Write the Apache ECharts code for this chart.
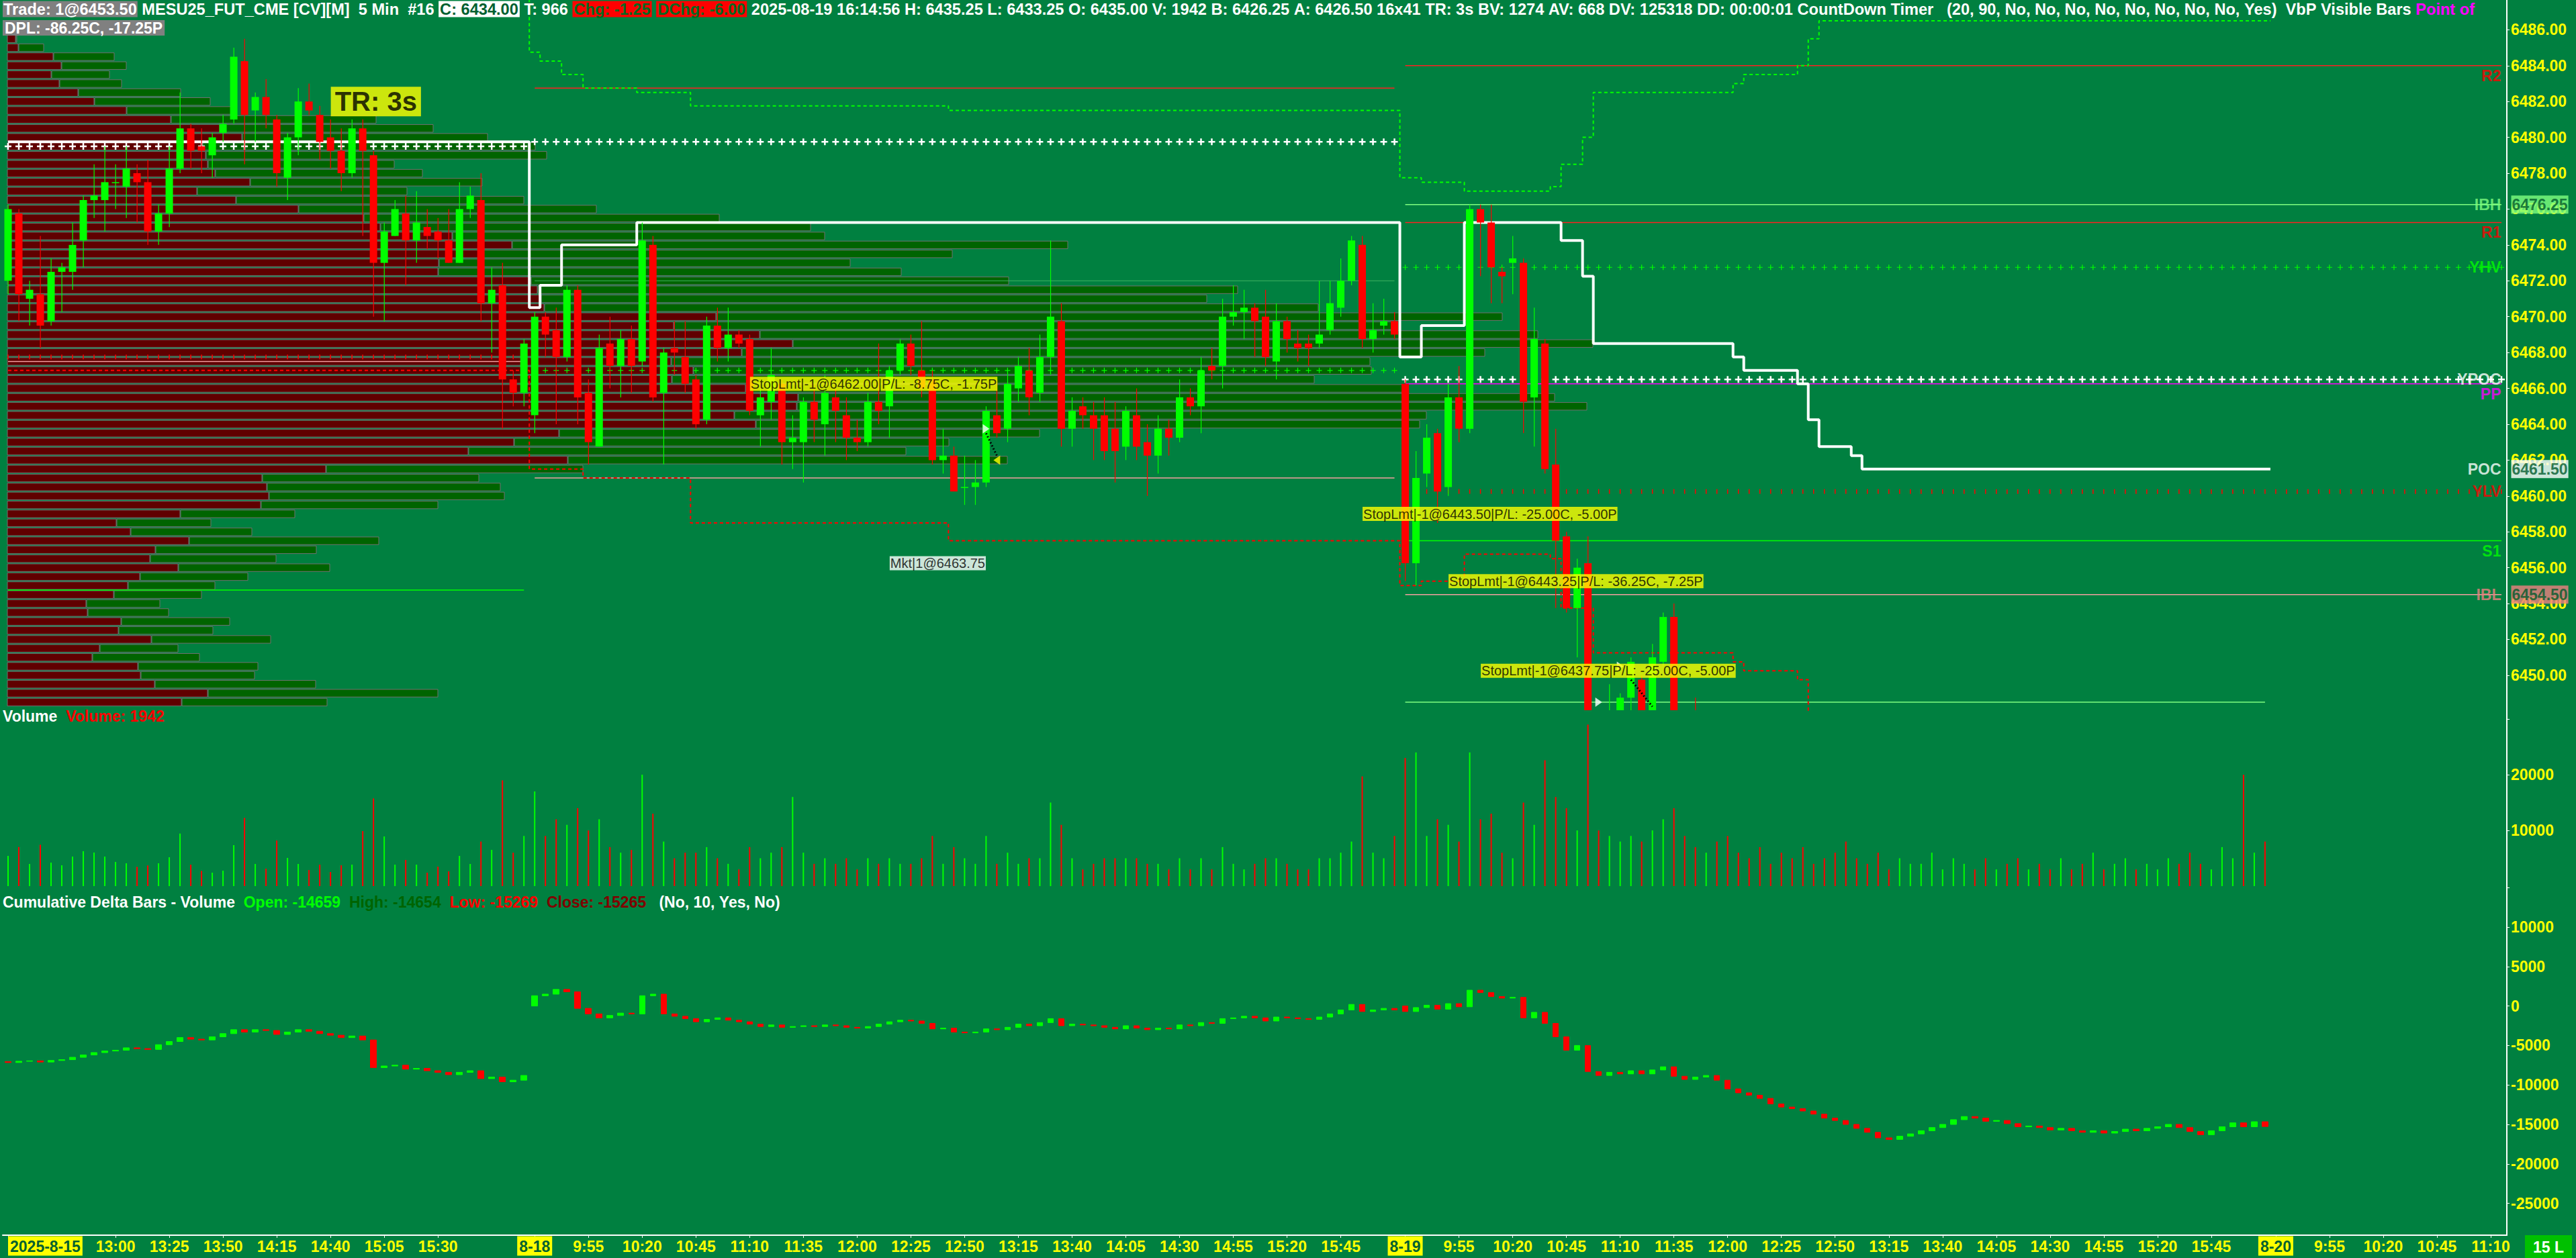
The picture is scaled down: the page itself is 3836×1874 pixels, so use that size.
<!DOCTYPE html>
<html><head><meta charset="utf-8">
<script src="https://cdn.jsdelivr.net/npm/echarts@6/dist/echarts.min.js"></script>
<style>html,body{margin:0;padding:0;background:#008040;overflow:hidden}#c{width:3836px;height:1874px}</style>
</head><body><div id="c"></div>
<script>
// ---------- sessions / categories ----------
const sessionDates = ['2025-8-15', '8-18', '8-19', '8-20'];
const sessionStarts = ['12:10', '9:30', '9:30', '9:30'];
const sessionBars = [49, 81, 81, 22];

// ---------- price candles [open, high, low, close] ----------
const priceOHLC = [
[6472.0,6476.25,6471.25,6476.0],[6475.75,6476.0,6469.75,6471.25],[6471.0,6472.0,6469.5,6471.5],[6471.25,6474.5,6468.25,6469.5],
[6469.75,6473.25,6469.5,6472.5],[6472.5,6473.0,6470.25,6472.75],[6472.5,6475.25,6471.5,6474.0],[6474.25,6476.75,6472.75,6476.5],
[6476.5,6478.5,6475.5,6476.75],[6476.5,6479.5,6474.75,6477.5],[6477.5,6478.5,6476.0,6477.5],[6477.25,6479.5,6475.5,6478.25],
[6478.0,6478.5,6475.25,6477.5],[6477.5,6478.75,6474.0,6474.75],[6474.75,6476.25,6474.0,6475.75],[6475.75,6479.5,6475.0,6478.25],
[6478.25,6482.5,6478.0,6480.5],[6480.5,6480.75,6478.25,6479.25],[6479.5,6480.5,6478.0,6479.25],[6479.0,6480.25,6477.75,6480.0],
[6480.25,6481.25,6479.75,6480.75],[6481.0,6485.0,6480.75,6484.5],[6484.25,6485.5,6478.5,6481.25],[6481.5,6482.5,6479.75,6482.25],
[6482.25,6483.25,6480.5,6481.25],[6481.0,6481.25,6477.25,6478.0],[6477.75,6480.25,6476.5,6480.0],[6480.0,6482.75,6479.0,6482.0],
[6482.0,6483.0,6481.25,6481.5],[6481.25,6481.75,6478.75,6479.75],[6480.0,6481.0,6478.25,6479.25],[6479.25,6480.5,6477.0,6478.0],
[6478.0,6481.0,6477.75,6480.5],[6480.5,6481.0,6474.5,6479.25],[6479.0,6479.25,6470.0,6473.0],[6473.0,6475.25,6469.75,6474.75],
[6474.5,6476.5,6474.5,6476.0],[6475.75,6476.75,6471.75,6474.25],[6474.25,6477.0,6473.0,6475.25],[6475.0,6476.0,6473.75,6474.5],
[6474.75,6475.5,6473.25,6474.25],[6474.25,6476.0,6473.0,6473.0],[6473.0,6477.5,6473.0,6476.0],[6476.0,6477.25,6475.5,6476.75],
[6476.5,6478.0,6469.75,6470.75],[6470.75,6472.75,6468.0,6471.5],[6471.75,6473.0,6463.75,6466.5],[6466.5,6467.0,6465.0,6465.75],
[6465.75,6468.75,6465.0,6468.5],
[6464.5,6470.25,6463.5,6470.0],[6470.0,6470.25,6467.75,6469.0],[6469.25,6470.5,6464.0,6467.75],[6467.75,6471.75,6467.5,6471.5],
[6471.5,6471.75,6464.0,6465.5],[6465.75,6466.5,6461.75,6463.0],[6462.75,6469.0,6462.75,6468.25],[6468.5,6470.0,6466.0,6467.25],
[6467.25,6469.25,6465.5,6468.75],[6468.75,6469.5,6465.75,6467.25],[6467.5,6475.25,6467.25,6474.25],[6474.0,6474.5,6465.25,6465.5],
[6465.75,6468.25,6461.75,6468.0],[6468.25,6469.75,6466.75,6468.0],[6467.75,6469.75,6465.75,6466.25],[6466.5,6466.75,6463.75,6464.0],
[6464.25,6470.0,6464.0,6469.5],[6469.5,6470.5,6467.5,6468.25],[6468.25,6470.5,6467.5,6469.0],[6469.0,6469.25,6468.25,6468.5],
[6468.75,6469.0,6464.5,6464.75],[6464.5,6466.5,6462.75,6465.5],[6465.25,6468.25,6464.25,6466.75],[6466.25,6466.5,6461.75,6463.0],
[6463.0,6464.5,6461.5,6463.25],[6463.0,6465.5,6460.75,6465.25],[6465.25,6466.25,6463.0,6464.25],[6464.0,6466.75,6462.25,6465.75],
[6465.5,6466.0,6463.0,6464.75],[6464.5,6465.5,6462.0,6463.25],[6463.25,6464.25,6462.5,6463.0],[6463.0,6465.75,6462.75,6465.25],
[6465.25,6468.5,6464.0,6464.75],[6465.0,6467.25,6463.25,6467.0],[6467.0,6468.75,6466.75,6468.5],[6468.5,6469.0,6466.75,6467.25],
[6467.0,6469.75,6465.5,6466.0],[6466.5,6467.0,6461.75,6462.0],[6462.0,6463.75,6461.25,6462.25],[6462.25,6462.75,6460.25,6460.25],
[6460.5,6462.25,6459.5,6460.5],[6460.5,6462.0,6459.5,6460.75],[6460.75,6465.0,6460.5,6464.75],[6464.5,6466.5,6463.25,6463.5],
[6463.75,6467.0,6463.0,6466.25],[6466.0,6467.75,6465.25,6467.25],[6467.0,6468.25,6464.5,6465.5],[6465.75,6469.0,6465.25,6467.75],
[6467.75,6474.25,6466.75,6470.0],[6469.75,6470.75,6462.75,6463.75],[6463.75,6465.5,6462.75,6464.75],[6465.0,6465.5,6463.75,6464.5],
[6464.5,6465.25,6462.0,6463.75],[6464.5,6465.5,6462.0,6462.5],[6463.75,6465.25,6460.75,6462.5],[6462.75,6465.0,6462.0,6464.75],
[6464.5,6466.0,6462.0,6462.75],[6463.0,6464.0,6460.0,6462.25],[6462.25,6464.5,6461.25,6463.75],[6463.75,6464.25,6462.25,6463.25],
[6463.25,6466.5,6463.0,6465.5],[6465.5,6466.0,6464.5,6465.0],[6465.0,6467.75,6463.5,6467.0],[6467.25,6468.25,6466.5,6467.0],
[6467.25,6471.0,6466.0,6470.0],[6470.0,6471.75,6469.5,6470.25],[6470.25,6471.5,6468.75,6470.5],[6470.5,6470.75,6467.75,6469.75],
[6470.0,6471.5,6467.25,6467.75],[6467.5,6470.75,6466.5,6469.75],[6469.75,6470.0,6468.0,6468.75],[6468.5,6469.25,6467.5,6468.25],
[6468.5,6469.0,6467.25,6468.25],[6468.5,6472.0,6468.25,6469.0],[6469.25,6472.0,6469.0,6470.75],[6470.5,6473.25,6470.0,6472.0],
[6472.0,6474.5,6471.75,6474.25],[6474.0,6474.5,6468.25,6468.75],[6468.75,6470.75,6468.0,6469.25],[6469.5,6471.0,6469.0,6469.75],
[6469.75,6470.25,6468.75,6469.0],
[6466.25,6466.5,6455.25,6456.25],[6456.25,6462.5,6455.0,6461.0],[6461.25,6464.0,6460.5,6463.25],[6463.5,6463.75,6458.5,6460.25],
[6460.5,6466.25,6460.0,6465.5],[6465.5,6467.25,6463.0,6463.75],[6463.75,6476.25,6463.5,6476.0],[6476.0,6476.25,6472.25,6475.25],
[6475.25,6476.25,6470.75,6472.75],[6472.5,6472.75,6470.75,6472.25],[6473.0,6474.5,6471.25,6473.25],[6473.0,6473.25,6463.5,6465.25],
[6465.5,6470.5,6462.75,6468.75],[6468.5,6468.75,6461.25,6461.5],[6461.75,6463.75,6453.75,6457.5],[6457.75,6458.0,6453.5,6453.75],
[6453.75,6456.5,6451.0,6456.0],[6456.25,6457.75,6445.0,6446.5],[6447.5,6448.0,6444.0,6445.0],[6445.0,6449.5,6444.0,6447.5],
[6446.0,6449.0,6445.0,6448.75],[6448.75,6451.0,6447.0,6450.75],[6449.75,6450.0,6446.0,6447.0],[6447.0,6451.75,6446.0,6451.0],
[6450.75,6453.5,6450.5,6453.25],[6453.25,6454.0,6445.0,6446.0],[6446.0,6447.0,6443.0,6444.0],[6445.0,6448.75,6442.0,6443.0]
];

// ---------- volume per bar ----------
const volume = [5422,7024,3976,7430,4217,3735,5301,6265,6024,5301,4337,4096,3470,3710,4096,5180,9438,3855,2731,2410,
2771,7349,12249,3976,3133,8193,5060,3976,2892,3855,2530,3735,3855,9880,15743,8916,3855,4699,3855,2410,3494,2651,5422,3976,
8000,6500,19000,6000,9000,
17000,9000,12000,11000,14000,10000,12000,7000,6000,6500,20000,13000,
8000,5000,6000,6000,7000,5000,4000,3000,7000,5000,6000,7000,16000,6000,4000,5000,4000,5000,3000,5000,
4000,5000,4000,4000,5000,9000,4000,7000,5000,4000,9000,4000,6000,4000,5000,5000,15000,11000,5000,3000,
4000,5000,5000,5000,5000,4000,4000,3000,5000,3000,5000,3000,7000,4000,3000,4000,5000,5000,4000,3000,3000,5000,5000,6000,8000,19700,6000,5000,9000,
23000,24000,9000,12000,11000,8000,24000,12000,13000,6000,5000,15000,11000,22600,16000,14000,10000,29000,10000,9000,8000,9000,8000,10000,12000,14000,9000,7000,6000,8000,9000,
6000,5000,7000,4000,6000,5000,7000,4000,5000,6000,8000,5000,4000,6000,3000,5000,4000,4000,6000,3000,
5000,4000,3000,5000,3000,4000,5000,3000,4000,3000,5000,3000,4000,6000,3000,4000,5000,3000,4000,3000,
5000,4000,6000,4000,3000,7000,5000,20000,6000,8000];

// ---------- cumulative delta closes per bar ----------
const deltaClose = [-7160,-7000,-6950,-7100,-6900,-6800,-6500,-6200,-5900,-5700,
-5600,-5300,-5400,-5500,-4900,-4500,-4000,-4200,-4300,-3900,
-3500,-3000,-3300,-3000,-3100,-3600,-3300,-3000,-3200,-3500,
-3700,-4000,-3800,-4300,-7800,-7600,-7500,-8000,-7900,-8200,
-8400,-8700,-8400,-8200,-9200,-9000,-9600,-9400,-8800,
1300,1500,2100,1800,-300,-1000,-1500,-1200,-900,-1000,
1300,1500,-1000,-1300,-1600,-2000,-1700,-1500,-1800,-2000,
-2300,-2600,-2400,-2700,-2600,-2500,-2600,-2400,-2500,-2700,
-2800,-2600,-2300,-2000,-1800,-1900,-2200,-2900,-2800,-3300,
-3400,-3300,-2900,-3000,-2700,-2300,-2500,-2100,-1600,-2500,
-2300,-2400,-2500,-2700,-2900,-2500,-2800,-3000,-2800,-2900,
-2400,-2500,-2100,-2200,-1600,-1500,-1300,-1500,-1900,-1400,
-1500,-1600,-1700,-1400,-1000,-500,200,-700,-500,-300,-500,
-700,-200,100,-400,300,-100,2000,1700,1200,1000,
1100,-1500,-800,-2200,-3900,-5600,-5000,-8300,-8800,-8400,
-8600,-8200,-8600,-8100,-7700,-8900,-9300,-9000,-8800,-9400,
-10500,-11000,-11300,-11700,-12400,-12800,-13000,-13300,-13700,-14200,
-14500,-15000,-15500,-16000,-16700,-16900,-16500,-16200,-15800,-15400,
-15000,-14400,-14000,-14200,-14600,-14500,-14900,-15300,-15200,-15400,
-15700,-15500,-15800,-16000,-15800,-16100,-15900,-15600,-15800,-15500,
-15300,-15000,-15400,-15900,-16300,-15800,-15300,-14800,-15300,-14659,-15265];
const deltaSessionOpen = [-7050, 0, 0];

// ---------- volume by price (visible bars): top row price, bid part, total ----------
const vbpTopPrice = 6485.5;
const vbpBid = [12,16,68,80,65,77,105,129,177,243,316,349,290,295,298,309,361,282,340,433,530,555,662,751,708,642,641,779,789,794,799,
1055,992,1120,1169,1093,988,1021,989,1099,1177,1175,1082,1114,821,754,686,834,474,
379,386,389,377,257,162,183,270,220,212,254,197,179,158,117,119,169,165,214,137,126,194,198,219,298,259];
const vbpTotal = [14,54,159,177,152,170,258,302,334,549,634,715,786,803,576,618,707,595,769,877,1060,1196,1217,1579,1407,1255,1331,1491,1832,1786,1952,
2226,2069,2279,2361,2200,2029,2031,1946,2079,2304,2352,2113,2103,1537,1402,1338,1489,857,
702,734,740,641,428,303,364,553,460,400,480,358,309,289,227,240,331,306,392,254,286,373,368,459,641,476];

// ---------- developing POC / value-area steps: [first bar, price] ----------
const dpocSteps = [[0,6479.75],[49,6470.5],[50,6471.75],[52,6474.0],[59,6475.25],[130,6467.75],[132,6469.5],[136,6475.25],[145,6474.25],[147,6472.25],[148,6468.5],[161,6467.75],[162,6467.0],[167,6466.25],[168,6464.25],[169,6462.75],[172,6462.25],[173,6461.5]];
const vahSteps = [[0,6490],[49,6484.75],[50,6484.25],[52,6483.5],[54,6482.75],[59,6482.5],[64,6481.75],[88,6481.5],[130,6477.75],[132,6477.5],[136,6477.0],[144,6477.25],[145,6478.5],[147,6480.0],[148,6482.5],[161,6483.0],[162,6483.5],[167,6484.0],[168,6485.5],[169,6486.5]];
const valSteps = [[0,6467.0],[49,6461.5],[54,6461.0],[64,6458.5],[88,6457.5],[130,6455.0],[132,6455.25],[136,6456.75],[144,6456.5],[145,6453.75],[148,6451.25],[161,6450.75],[162,6450.25],[167,6449.75],[168,6447.5]];
const lastDataBar = 210;

// ---------- horizontal levels: [from bar, to bar, price, kind] ----------
const levelLines = [
 [0,48,6467.5,'pink'],[0,48,6454.75,'green'],
 [49,129,6482.75,'red'],[49,129,6461.0,'pink'],[49,129,6472.0,'faint'],
 [130,232,6484.0,'red'],[130,232,6476.25,'lightgreen'],[130,232,6475.25,'red'],[130,232,6466.25,'magenta'],
 [130,232,6457.5,'green'],[130,232,6454.5,'pink'],[130,210,6448.5,'lightgreen']
];
const plusLines = [
 [0,48,6479.5,'white'],[49,129,6479.75,'white'],[130,232,6466.5,'white'],
 [130,232,6472.75,'greenplus'],[0,48,6467.75,'redtick'],[49,129,6467.0,'greenplus'],[130,232,6460.25,'redtick']
];
// right-hand level names: [name, price, colour, offset below line]
const levelNames = [['R2',6484.0,'#ff0000',15],['IBH',6476.25,'#80ff80',0],['R1',6475.25,'#ff0000',15],['YHV',6472.75,'#00ff00',0],
 ['YPOC',6466.5,'#ffffff',0],['PP',6466.25,'#ff00ff',15],['POC',6461.5,'#ffffff',0],['YLV',6460.25,'#ff0000',0],
 ['S1',6457.5,'#00ff00',15],['IBL',6454.5,'#f08080',0]];
const axisBoxes = [[6476.25,'#80ff80'],[6461.5,'#ffffff'],[6454.5,'#f08080']];
// order / info labels
const orderText = ['StopLmt|-1@6462.00|P/L: -8.75C, -1.75P','Mkt|1@6463.75','StopLmt|-1@6443.50|P/L: -25.00C, -5.00P','StopLmt|-1@6443.25|P/L: -36.25C, -7.25P','StopLmt|-1@6437.75|P/L: -25.00C, -5.00P'];
const orderBar = [69,82,126,134,137];
const orderPrice = [6466.25,6456.25,6459.0,6455.25,6450.25];
const orderBg = ['#ffff00','#ffffff','#ffff00','#ffff00','#ffff00'];
// trade fill markers: [bar, price, kind] and connecting dotted links
const fillMarks = [[91,6463.75,'entry'],[92,6462.0,'exit'],[150,6450.5,'entry'],[148,6448.5,'entry']];
const fillLinks = [[[91,6463.5],[92,6462.25]],[[151,6449.75],[153,6448.25]]];

// ---------- build categories ----------
const cats = [], tickText = [];
sessionDates.forEach((d, s) => {
  let [h, m] = sessionStarts[s].split(':').map(Number);
  for (let k = 0; k < sessionBars[s]; k++) {
    const t = h + ':' + String(m).padStart(2, '0');
    cats.push(d + ' ' + t);
    let lab = '';
    if (k === 0) lab = d;
    else if (k % 5 === 0 && !(s === 0 && k < 10) && (s === sessionDates.length - 1 || sessionBars[s] - k > 5)) lab = t;
    tickText.push(lab);
    m += 5; if (m >= 60) { m -= 60; h++; }
  }
});
const NCAT = cats.length;
const sessionFirst = [0, 49, 130];

function expandSteps(steps, endIdx) {
  const out = new Array(NCAT).fill(null);
  steps.forEach((st, s) => {
    const to = s + 1 < steps.length ? steps[s + 1][0] - 1 : endIdx;
    for (let i = st[0]; i <= to; i++) out[i] = st[1];
  });
  return out;
}

const FONT = 'Liberation Sans, Arial, sans-serif';
const priceMin = 6448.05, priceMax = 6487.66;

const candleData = priceOHLC.map((r, i) => [i, r[0], r[1], r[2], r[3]]);
const deltaData = deltaClose.map((c, i) => {
  let o;
  const sf = sessionFirst.indexOf(i);
  if (sf >= 0) o = deltaSessionOpen[sf]; else o = deltaClose[i - 1];
  return [o, c, Math.min(o, c), Math.max(o, c)];
});
const volData = volume.map((v, i) => {
  let up;
  if (i < priceOHLC.length) up = priceOHLC[i][3] >= priceOHLC[i][0];
  else up = deltaData[i][1] >= deltaData[i][0];
  return { value: v, itemStyle: { color: up ? '#00ff00' : '#ff0000' } };
});
const vbpData = vbpBid.map((b, i) => [vbpTopPrice - 0.5 * i, b, vbpTotal[i]]);

const levelColor = { pink: '#f4a0a0', green: '#00ff00', red: '#ff2020', faint: '#40b060', lightgreen: '#80ff80', magenta: '#ff00ff' };
const series = [];

series.push({
  type: 'custom', xAxisIndex: 3, yAxisIndex: 3, z: 1, silent: true, data: vbpData,
  renderItem: (params, api) => {
    const p = api.value(0), b = api.value(1), t = api.value(2);
    const a = api.coord([0, p + 0.25]);
    const m = api.coord([b, p - 0.25]);
    const e = api.coord([t, p - 0.25]);
    const h = m[1] - a[1];
    return { type: 'group', children: [
      { type: 'rect', shape: { x: a[0], y: a[1] + 1, width: m[0] - a[0], height: h - 2 }, style: { fill: '#600000', stroke: '#707070', lineWidth: 1 } },
      { type: 'rect', shape: { x: m[0] + 1, y: a[1] + 1, width: Math.max(0, e[0] - m[0] - 1), height: h - 2 }, style: { fill: '#006400', stroke: '#707070', lineWidth: 1 } }
    ] };
  }
});

levelLines.forEach(L => {
  series.push({ type: 'line', xAxisIndex: 0, yAxisIndex: 0, z: 2, silent: true, symbol: 'none',
    data: [[L[0], L[2]], [L[1], L[2]]], lineStyle: { color: levelColor[L[3]], width: L[3] === 'faint' ? 1 : 1.5 } });
});

const plusPath = 'path://M3,0H5V3H8V5H5V8H3V5H0V3H3Z';
const thinPlus = 'path://M3.4,0H4.6V3.4H8V4.6H4.6V8H3.4V4.6H0V3.4H3.4Z';
plusLines.forEach(L => {
  const d = [];
  for (let i = L[0]; i <= L[1]; i++) d.push([i, L[2]]);
  let sym = plusPath, size = 10, col = '#ffffff';
  if (L[3] === 'greenplus') { sym = thinPlus; size = 8; col = '#00ff00'; }
  if (L[3] === 'redtick') { sym = 'rect'; size = [1.5, 7]; col = '#ff0000'; }
  series.push({ type: 'line', xAxisIndex: 0, yAxisIndex: 0, z: 3, silent: true, data: d, symbol: sym, symbolSize: size,
    showAllSymbol: true, itemStyle: { color: col }, lineStyle: { opacity: 0 } });
});

series.push({ type: 'line', z: 3, silent: true, symbol: 'none', step: 'middle', data: expandSteps(vahSteps, lastDataBar),
  lineStyle: { color: '#00ff00', width: 2, type: [5, 4] } });
series.push({ type: 'line', z: 3, silent: true, symbol: 'none', step: 'middle', data: expandSteps(valSteps, lastDataBar),
  lineStyle: { color: '#ff0000', width: 2, type: [5, 4] } });
series.push({ type: 'line', z: 4, silent: true, symbol: 'none', step: 'middle', data: expandSteps(dpocSteps, lastDataBar),
  lineStyle: { color: '#ffffff', width: 4 } });

// price candles drawn through the price axes, clipped to the price panel
series.push({ type: 'custom', xAxisIndex: 0, yAxisIndex: 0, z: 5, silent: true, data: candleData,
  encode: { x: 0, y: [1, 2, 3, 4] },
  renderItem: (params, api) => {
    const cs = params.coordSys;
    const idx = api.value(0), O = api.value(1), H = api.value(2), Lo = api.value(3), C = api.value(4);
    const top = cs.y, bot = cs.y + cs.height;
    const clamp = v => Math.max(top, Math.min(bot, v));
    const x = api.coord([idx, O])[0];
    const yo = api.coord([idx, O])[1], yc = api.coord([idx, C])[1], yh = api.coord([idx, H])[1], yl = api.coord([idx, Lo])[1];
    const col = C >= O ? '#00ff00' : '#ff0000';
    const wt = clamp(yh), wb = clamp(yl);
    const bt = clamp(Math.min(yo, yc)), bb = clamp(Math.max(yo, yc));
    const ch = [];
    if (wb > wt) ch.push({ type: 'rect', shape: { x: x - 0.5, y: wt, width: 1.2, height: wb - wt }, style: { fill: col } });
    if (bt < bot) ch.push({ type: 'rect', shape: { x: x - 5.5, y: bt, width: 11, height: Math.max(1.5, bb - bt) }, style: { fill: col } });
    return { type: 'group', children: ch };
  }
});

fillLinks.forEach(L => {
  series.push({ type: 'line', xAxisIndex: 0, yAxisIndex: 0, z: 6, silent: true, symbol: 'none', data: L,
    lineStyle: { color: '#000000', width: 3, type: [2, 3] } });
});
series.push({ type: 'scatter', xAxisIndex: 0, yAxisIndex: 0, z: 6, silent: true,
  data: fillMarks.map(F => ({ value: [F[0], F[1]],
    symbol: F[2] === 'entry' ? 'path://M0,0L10,7L0,14Z' : 'path://M10,0L0,7L10,14Z',
    itemStyle: { color: F[2] === 'entry' ? '#ffffff' : '#ffff00' } })),
  symbolSize: [10, 14] });

series.push({ type: 'scatter', xAxisIndex: 0, yAxisIndex: 0, z: 7, silent: true, symbolSize: 1,
  itemStyle: { color: 'rgba(0,0,0,0)' },
  data: orderBar.map((b, i) => ({ value: [b, orderPrice[i]], label: { backgroundColor: orderBg[i] } })),
  label: { show: true, position: 'right', distance: 0, fontFamily: FONT, fontSize: 20, color: '#000', padding: [1, 1, 0, 1],
    formatter: p => orderText[p.dataIndex] }
});

series.push({ type: 'scatter', xAxisIndex: 0, yAxisIndex: 0, z: 7, silent: true, symbolSize: 1, itemStyle: { color: 'rgba(0,0,0,0)' },
  data: [[30, 6482.0]],
  label: { show: true, position: 'right', distance: 0, formatter: 'TR: 3s', fontFamily: FONT, fontWeight: 'bold', fontSize: 40,
    color: '#000', backgroundColor: '#ffff00', padding: [3, 6, 1, 6] } });

series.push({ type: 'scatter', xAxisIndex: 0, yAxisIndex: 0, z: 7, silent: true, symbolSize: 1, itemStyle: { color: 'rgba(0,0,0,0)' },
  data: levelNames.map(L => ({ value: [NCAT - 1, L[1]], label: { formatter: L[0], color: L[2], offset: [0, L[3]] } })),
  label: { show: true, position: 'left', distance: 0, fontFamily: FONT, fontWeight: 'bold', fontSize: 23 } });

series.push({ type: 'scatter', xAxisIndex: 0, yAxisIndex: 0, z: 8, silent: true, symbolSize: 1, itemStyle: { color: 'rgba(0,0,0,0)' },
  data: axisBoxes.map(B => ({ value: [NCAT - 1, B[0]], label: { backgroundColor: B[1] } })),
  label: { show: true, position: 'right', distance: 14, fontFamily: FONT, fontWeight: 'bold', fontSize: 23, color: '#005a2c',
    padding: [3, 1, 1, 1], formatter: p => p.value[1].toFixed(2) } });

series.push({ type: 'bar', xAxisIndex: 1, yAxisIndex: 1, barWidth: 2, data: volData, silent: true });

series.push({ type: 'candlestick', xAxisIndex: 2, yAxisIndex: 2, barWidth: 9, data: deltaData, silent: true,
  itemStyle: { color: '#00ff00', color0: '#ff0000', borderColor: '#00ff00', borderColor0: '#ff0000', borderWidth: 1 } });

const hiddenX = gi => ({ type: 'category', gridIndex: gi, data: cats, boundaryGap: true, axisLine: { show: false }, axisTick: { show: false }, axisLabel: { show: false }, splitLine: { show: false } });
const yLabel = { color: '#ffff00', fontFamily: FONT, fontWeight: 'bold', fontSize: 23, margin: 6, showMinLabel: false, showMaxLabel: false };
const yStyle = {
  position: 'right', splitLine: { show: false },
  axisLine: { show: true, lineStyle: { color: '#ffffff', width: 2 } },
  axisTick: { show: true, inside: false, length: 4, lineStyle: { color: '#ffffff' } }
};
const showTick = idx => tickText[idx] !== '';

const rt = (txt) => txt.replace(/ /g, '\u00a0');
const HF = 23.6;
const option = {
  animation: false,
  backgroundColor: '#008040',
  title: [
    { left: 4, top: 0, padding: 0,
      text: '{g|' + rt('Trade: 1@6453.50') + '}{w|' + rt(' MESU25_FUT_CME [CV][M]  5 Min  #16 ') + '}{c|' + rt('C: 6434.00') + '}{w|' + rt(' T: 966 ') +
        '}{r|' + rt('Chg: -1.25') + '}{w|\u00a0}{r|' + rt('DChg: -6.00') + '}{w|' +
        rt(' 2025-08-19 16:14:56 H: 6435.25 L: 6433.25 O: 6435.00 V: 1942 B: 6426.25 A: 6426.50 16x41 TR: 3s BV: 1274 AV: 668 DV: 125318 DD: 00:00:01 CountDown Timer   (20, 90, No, No, No, No, No, No, No, No, Yes)  VbP Visible Bars ') +
        '}{m|Point\u00a0of}',
      textStyle: { fontFamily: FONT, fontSize: HF, fontWeight: 'bold', rich: {
        g: { color: '#ffffff', backgroundColor: '#808080', fontFamily: FONT, fontSize: HF, fontWeight: 'bold', lineHeight: 27, padding: [0, 1] },
        w: { color: '#ffffff', fontFamily: FONT, fontSize: HF, fontWeight: 'bold', lineHeight: 27 },
        c: { color: '#006030', backgroundColor: '#ffffff', fontFamily: FONT, fontSize: HF, fontWeight: 'bold', lineHeight: 27, padding: [0, 2] },
        r: { color: '#006a20', backgroundColor: '#ff0000', fontFamily: FONT, fontSize: HF, fontWeight: 'bold', lineHeight: 27, padding: [0, 2] },
        m: { color: '#ff00ff', fontFamily: FONT, fontSize: HF, fontWeight: 'bold', lineHeight: 27 }
      } } },
    { left: 4, top: 28, padding: 0, text: '{g|' + rt('DPL: -86.25C, -17.25P') + '}',
      textStyle: { rich: { g: { color: '#ffffff', backgroundColor: '#808080', fontFamily: FONT, fontSize: 23, fontWeight: 'bold', lineHeight: 27, padding: [0, 3] } } } },
    { left: 4, top: 1053, padding: 0, text: '{w|Volume\u00a0\u00a0}{r|Volume:\u00a01942}',
      textStyle: { rich: { w: { color: '#ffffff', fontFamily: FONT, fontSize: 23, fontWeight: 'bold', lineHeight: 27 }, r: { color: '#ff0000', fontFamily: FONT, fontSize: 23, fontWeight: 'bold', lineHeight: 27 } } } },
    { left: 4, top: 1330, padding: 0,
      text: '{w|' + rt('Cumulative Delta Bars - Volume  ') + '}{o|' + rt('Open: -14659  ') + '}{h|' + rt('High: -14654  ') + '}{l|' + rt('Low: -15269  ') + '}{c|' + rt('Close: -15265   ') + '}{w|' + rt('(No, 10, Yes, No)') + '}',
      textStyle: { rich: {
        w: { color: '#ffffff', fontFamily: FONT, fontSize: 23, fontWeight: 'bold', lineHeight: 27 },
        o: { color: '#00ff00', fontFamily: FONT, fontSize: 23, fontWeight: 'bold', lineHeight: 27 },
        h: { color: '#006400', fontFamily: FONT, fontSize: 23, fontWeight: 'bold', lineHeight: 27 },
        l: { color: '#ff0000', fontFamily: FONT, fontSize: 23, fontWeight: 'bold', lineHeight: 27 },
        c: { color: '#800000', fontFamily: FONT, fontSize: 23, fontWeight: 'bold', lineHeight: 27 } } } },
    { right: 6, top: 1840, padding: [4, 12, 3, 12], backgroundColor: '#00c000', text: '15 L',
      textStyle: { color: '#ffffff', fontFamily: FONT, fontSize: 23, fontWeight: 'bold', lineHeight: 27 } }
  ],
  grid: [
    { left: 4, right: 103, top: 0, height: 1058 },
    { left: 4, right: 103, top: 1058, height: 262 },
    { left: 4, right: 103, top: 1320, height: 520 },
    { left: 11, right: 103, top: 0, height: 1058 }
  ],
  xAxis: [
    hiddenX(0), hiddenX(1),
    { type: 'category', gridIndex: 2, data: cats, boundaryGap: true,
      axisLine: { show: true, onZero: false, lineStyle: { color: '#ffffff', width: 2 } },
      axisTick: { show: true, interval: showTick, alignWithLabel: true, length: 4, lineStyle: { color: '#ffffff' } },
      axisLabel: { show: true, interval: showTick, margin: 4, alignMinLabel: 'left',
        formatter: (v, idx) => {
          const t = tickText[idx];
          return sessionDates.indexOf(t) >= 0 ? '{d|' + t + '}' : '{t|' + t + '}';
        },
        rich: {
          d: { backgroundColor: '#ffff00', color: '#006030', fontFamily: FONT, fontWeight: 'bold', fontSize: 23, lineHeight: 24, padding: [4, 3, 2, 3] },
          t: { color: '#ffff00', fontFamily: FONT, fontWeight: 'bold', fontSize: 23, lineHeight: 24, padding: [4, 0, 2, 0] }
        } },
      splitLine: { show: false } },
    { type: 'value', gridIndex: 3, min: 0, max: 3722, show: false }
  ],
  yAxis: [
    Object.assign({}, yStyle, { type: 'value', gridIndex: 0, min: priceMin, max: priceMax, splitNumber: 20,
      axisLabel: Object.assign({}, yLabel, { formatter: v => v.toFixed(2) }) }),
    Object.assign({}, yStyle, { type: 'value', gridIndex: 1, min: 0, max: 31576, splitNumber: 3,
      axisLabel: Object.assign({}, yLabel, { formatter: v => (v > 0 && v < 30000) ? String(v) : '' }) }),
    Object.assign({}, yStyle, { type: 'value', gridIndex: 2, min: -29031, max: 15187, splitNumber: 9,
      axisLabel: Object.assign({}, yLabel, { formatter: v => (v <= 10000) ? String(v) : '' }) }),
    { type: 'value', gridIndex: 3, min: priceMin, max: priceMax, show: false }
  ],
  series: series
};
const chart = echarts.init(document.getElementById('c'), null, { renderer: 'svg' });
chart.setOption(option);
</script></body></html>
